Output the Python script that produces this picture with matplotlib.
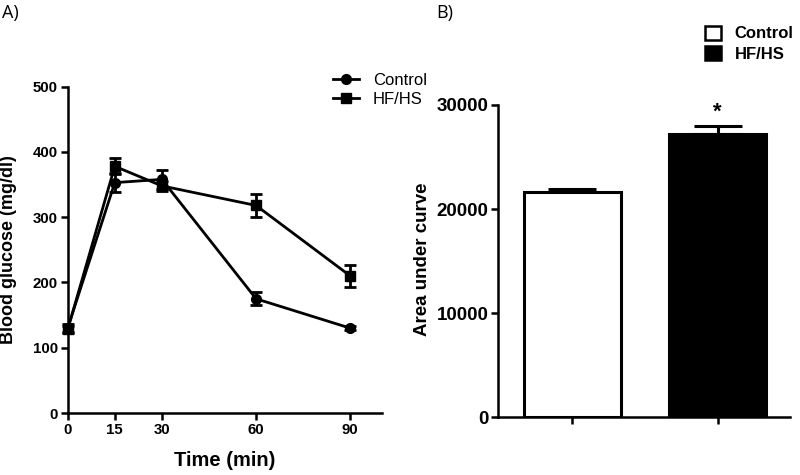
import numpy as np
import matplotlib.pyplot as plt
from matplotlib.patches import Patch
from matplotlib.lines import Line2D

plt.rcParams['font.family'] = ['Liberation Sans', 'DejaVu Sans']

# glucose tolerance test
time_min = [0, 15, 30, 60, 90]
control_glc = [130, 353, 358, 175, 130]
control_err = [6, 14, 15, 10, 3]
hfhs_glc = [128, 378, 348, 318, 210]
hfhs_err = [6, 12, 8, 18, 17]

# area under curve
groups = ["Control", "HF/HS"]
auc = [21600, 27200]
auc_err = [350, 750]

fig = plt.figure(figsize=(8, 4.75), dpi=100)

# ---- A) ----
ax1 = fig.add_axes([0.0846, 0.1305, 0.3925, 0.687])
ax1.errorbar(time_min, control_glc, yerr=control_err, color='black', lw=2,
             marker='o', ms=7, capsize=4, capthick=2, elinewidth=2,
             clip_on=False, zorder=3)
ax1.errorbar(time_min, hfhs_glc, yerr=hfhs_err, color='black', lw=2,
             marker='s', ms=7, capsize=4, capthick=2, elinewidth=2,
             clip_on=False, zorder=3)
ax1.set_xlim(0, 100)
ax1.set_ylim(0, 500)
ax1.set_xticks(time_min)
ax1.set_yticks([0, 100, 200, 300, 400, 500])
ax1.set_xlabel('Time (min)', fontsize=14.5, fontweight='bold')
ax1.set_ylabel('Blood glucose (mg/dl)', fontsize=13, fontweight='bold')
ax1.xaxis.set_label_coords(0.5, -0.115)
ax1.yaxis.set_label_coords(-0.162, 0.5)

line_handles = [Line2D([], [], color='black', lw=2, marker='o', ms=7),
                Line2D([], [], color='black', lw=2, marker='s', ms=7)]
ax1.legend(line_handles, groups, loc='upper left',
           bbox_to_anchor=(326 / 800, 1 - 66 / 475),
           bbox_transform=fig.transFigure, frameon=False, fontsize=12,
           handlelength=1.6, handletextpad=0.8, labelspacing=0.25,
           borderaxespad=0)

# ---- B) ----
ax2 = fig.add_axes([0.623, 0.1215, 0.3645, 0.6575])
x = np.arange(len(groups))
ax2.bar(x, auc, width=0.665, color=['white', 'black'], edgecolor='black',
        linewidth=2.2, zorder=2)
ax2.errorbar(x, auc, yerr=[[0, 0], auc_err], fmt='none', ecolor='black',
             elinewidth=2.2, capsize=17.5, capthick=2.2, zorder=1)
ax2.text(x[1], auc[1] + auc_err[1] + 300, '*', ha='center', va='bottom',
         fontsize=16, fontweight='bold')
ax2.set_xlim(-0.509, 1.497)
ax2.set_ylim(0, 30000)
ax2.set_xticks(x)
ax2.set_xticklabels([])
ax2.set_yticks([0, 10000, 20000, 30000])
ax2.set_ylabel('Area under curve', fontsize=13.5, fontweight='bold')
ax2.yaxis.set_label_coords(-0.231, 0.507)

handles = [Patch(facecolor='white', edgecolor='black', linewidth=1.8),
           Patch(facecolor='black', edgecolor='black', linewidth=1.8)]
ax2.legend(handles, groups, loc='upper left',
           bbox_to_anchor=(698 / 800, 1 - 19 / 475),
           bbox_transform=fig.transFigure, frameon=False,
           prop={'size': 12, 'weight': 'bold'},
           handlelength=1.0, handleheight=0.9, handletextpad=0.8,
           labelspacing=0.3, borderaxespad=0)

for ax, fs in [(ax1, 10.8), (ax2, 13.5)]:
    for side in ['top', 'right']:
        ax.spines[side].set_visible(False)
    for side in ['left', 'bottom']:
        ax.spines[side].set_linewidth(1.8)
    ax.tick_params(direction='out', length=5, width=1.8, labelsize=fs, pad=2)
    for lab in ax.get_xticklabels() + ax.get_yticklabels():
        lab.set_fontweight('bold')

fig.text(2 / 800, 1 - 4 / 475, 'A)', fontsize=13, ha='left', va='top',
         family=['Open Sans', 'DejaVu Sans'])
fig.text(436 / 800, 1 - 4 / 475, 'B)', fontsize=13, ha='left', va='top',
         family=['Open Sans', 'DejaVu Sans'])

fig.savefig('out.png', dpi=100)
